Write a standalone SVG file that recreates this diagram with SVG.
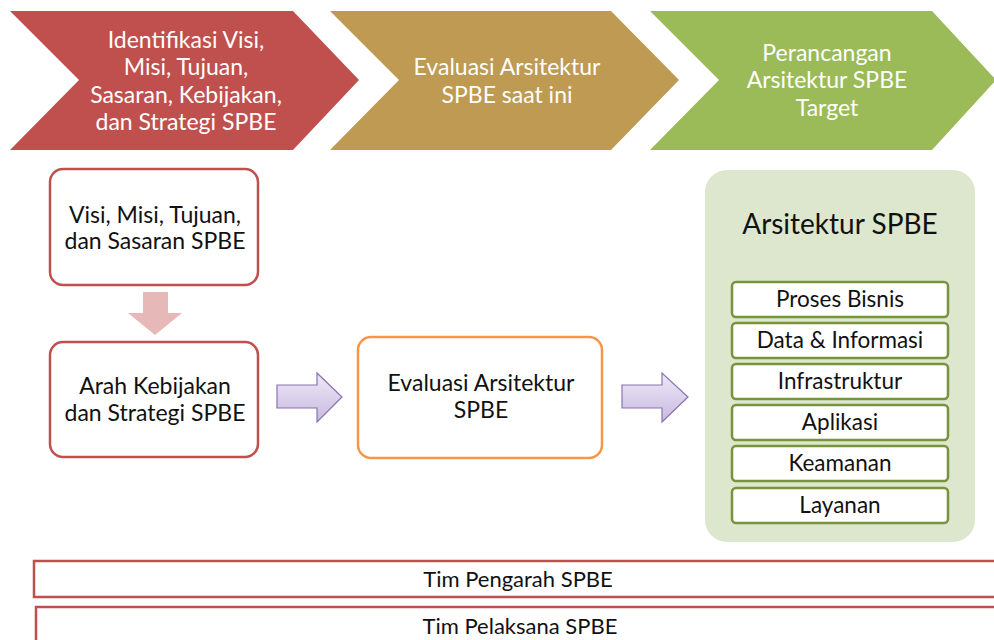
<svg xmlns="http://www.w3.org/2000/svg" width="994" height="640" viewBox="0 0 994 640">
  <defs>
    <linearGradient id="purpleFill" x1="0" y1="0" x2="0" y2="1">
      <stop offset="0" stop-color="#EEE9F6"/>
      <stop offset="1" stop-color="#C8B9E0"/>
    </linearGradient>
    <style>
      text { font-family: Lato, "Liberation Sans", sans-serif; text-anchor: middle; }
      .phase-text { fill: #FFFFFF; font-size: 23px; }
      .box-text { fill: #111111; font-size: 23px; }
      .red-box { fill: #FFFFFF; stroke: #C0504D; stroke-width: 2.5; }
      .layer { fill: #FFFFFF; stroke: #77933C; stroke-width: 2.5; }
      .layer-text { fill: #111111; font-size: 22.5px; }
      .team { fill: #FFFFFF; stroke: #C0504D; stroke-width: 2.5; }
      .team-text { fill: #111111; font-size: 22px; }
      .block-arrow { fill: url(#purpleFill); stroke: #8A73B0; stroke-width: 1.2; }
    </style>
  </defs>
  <rect width="994" height="640" fill="#FFFFFF"/>

  <!-- phase chevrons -->
  <g id="phase-identifikasi">
    <polygon points="10,11 293,11 359,80 293,150 10,150 79,80" fill="#C0504D"/>
    <text class="phase-text" x="186" y="48">Identifikasi Visi,</text>
    <text class="phase-text" x="186" y="75">Misi, Tujuan,</text>
    <text class="phase-text" x="186" y="103">Sasaran, Kebijakan,</text>
    <text class="phase-text" x="186" y="130">dan Strategi SPBE</text>
  </g>
  <g id="phase-evaluasi">
    <polygon points="330,11 611,11 679,80 611,150 330,150 399,80" fill="#BE9A52"/>
    <text class="phase-text" x="507" y="75">Evaluasi Arsitektur</text>
    <text class="phase-text" x="507" y="103">SPBE saat ini</text>
  </g>
  <g id="phase-perancangan">
    <polygon points="650,11 932,11 996,80 932,150 650,150 719,80" fill="#9BBB59"/>
    <text class="phase-text" x="827" y="61">Perancangan</text>
    <text class="phase-text" x="827" y="88">Arsitektur SPBE</text>
    <text class="phase-text" x="827" y="116">Target</text>
  </g>

  <!-- process boxes -->
  <g id="visi-misi">
    <rect class="red-box" x="50" y="169" width="208" height="116" rx="13"/>
    <text class="box-text" x="155" y="223">Visi, Misi, Tujuan,</text>
    <text class="box-text" x="155" y="249">dan Sasaran SPBE</text>
  </g>
  <g id="arah-kebijakan">
    <rect class="red-box" x="50" y="342" width="208" height="115" rx="13"/>
    <text class="box-text" x="155" y="394">Arah Kebijakan</text>
    <text class="box-text" x="155" y="421">dan Strategi SPBE</text>
  </g>
  <g id="evaluasi-arsitektur">
    <rect x="358" y="337" width="244" height="121" rx="13" fill="#FFFFFF" stroke="#F79646" stroke-width="2.5"/>
    <text class="box-text" x="481" y="391">Evaluasi Arsitektur</text>
    <text class="box-text" x="481" y="418">SPBE</text>
  </g>

  <!-- target architecture panel -->
  <g id="arsitektur-spbe">
    <rect x="705" y="170" width="270" height="372" rx="22" fill="#DDE7CE"/>
    <text x="840" y="234" font-size="28" fill="#111111">Arsitektur SPBE</text>
    <rect class="layer" x="732" y="282" width="216" height="35" rx="4"/>
    <text class="layer-text" x="840" y="307">Proses Bisnis</text>
    <rect class="layer" x="732" y="323" width="216" height="35" rx="4"/>
    <text class="layer-text" x="840" y="348">Data &amp; Informasi</text>
    <rect class="layer" x="732" y="364" width="216" height="35" rx="4"/>
    <text class="layer-text" x="840" y="389">Infrastruktur</text>
    <rect class="layer" x="732" y="405" width="216" height="35" rx="4"/>
    <text class="layer-text" x="840" y="430">Aplikasi</text>
    <rect class="layer" x="732" y="446" width="216" height="35" rx="4"/>
    <text class="layer-text" x="840" y="471">Keamanan</text>
    <rect class="layer" x="732" y="488" width="216" height="35" rx="4"/>
    <text class="layer-text" x="840" y="513">Layanan</text>
  </g>

  <!-- team bars -->
  <g id="tim-pengarah">
    <rect class="team" x="34" y="561" width="980" height="36"/>
    <text class="team-text" x="518" y="587">Tim Pengarah SPBE</text>
  </g>
  <g id="tim-pelaksana">
    <rect class="team" x="36" y="607" width="980" height="60"/>
    <text class="team-text" x="520" y="634">Tim Pelaksana SPBE</text>
  </g>

  <!-- connectors -->
  <g id="connectors">
    <polygon points="143,292 168,292 168,313 182,313 155,335 128,313 143,313" fill="#E6B9B8"/>
    <polygon class="block-arrow" points="277,385 317,385 317,373 342,397 317,422 317,408 277,408"/>
    <polygon class="block-arrow" points="622,385 662,385 662,373 688,397 662,422 662,408 622,408"/>
  </g>
</svg>
